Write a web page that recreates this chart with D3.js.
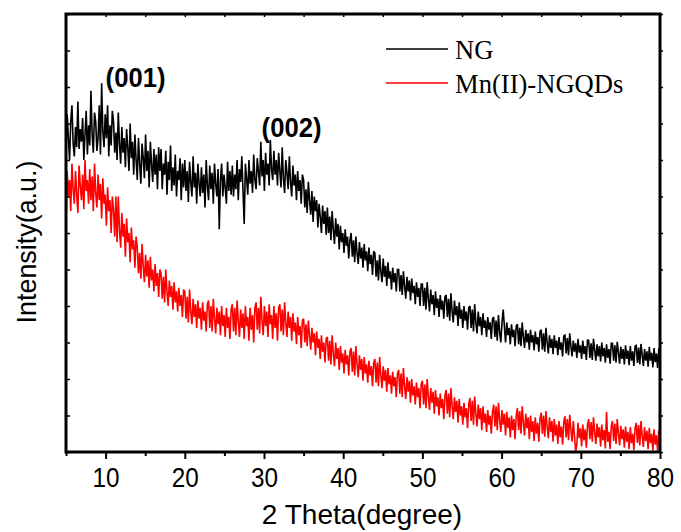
<!DOCTYPE html>
<html>
<head>
<meta charset="utf-8">
<script src="https://cdn.jsdelivr.net/npm/d3@7/dist/d3.min.js"></script>
<style>
  html, body { margin: 0; padding: 0; background: #fff; }
  svg { display: block; }
</style>
</head>
<body>
<svg id="chart" width="681" height="532"></svg>
<script>
// ---- data (2θ scan from 5° to 80°, step 0.15°) ----
const thetaStart = 5, thetaEnd = 80, thetaStep = 0.15;
const xMajorTicks = [10, 20, 30, 40, 50, 60, 70, 80];
const xMinorTicks = [5, 15, 25, 35, 45, 55, 65, 75];
const yTicks = [0, 100, 200, 300, 400, 500, 600, 700, 800, 900, 1000, 1100, 1200];
const seriesNames = ["NG", "Mn(II)-NGQDs"];
const seriesColors = ["#000000", "#ff0000"];
const peakLabels = ["(001)", "(002)"];
const peakLabelX = [10.0, 29.7];
const peakLabelY = [1000, 862];

const ngValues = [
  820,925,860,800,905,950,845,810,890,835, 960,830,885,850,915,800,870,935,815,895,
  840,990,870,820,930,905,825,860,950,815, 1010,880,835,925,860,950,810,895,840,935,
  905,820,875,800,930,845,790,890,820,860, 780,885,835,770,900,805,850,760,870,800,
  745,860,790,735,845,805,750,870,770,825, 725,850,790,740,830,760,815,720,835,770,
  830,720,790,760,825,705,795,745,840,715, 780,730,815,700,770,745,805,690,790,725,
  800,715,770,685,795,740,700,810,725,765, 680,790,735,700,780,710,760,670,800,730,
  690,785,720,765,680,790,735,700,775,610, 745,790,700,760,725,680,795,715,770,705,
  785,700,760,720,800,690,775,740,810,715, 625,790,750,705,800,735,770,710,815,745,
  720,805,770,730,850,755,800,715,820,760, 790,730,855,775,745,825,760,800,730,820,
  770,725,835,750,710,800,765,720,810,740, 700,785,730,760,690,770,715,745,680,760,
  745,670,720,655,740,690,650,715,630,700, 660,690,615,680,645,600,675,625,660,595,
  670,600,645,580,660,610,570,640,590,625, 555,620,575,600,545,610,565,590,530,580,
  600,535,580,520,590,545,515,575,530,560, 505,570,525,550,495,560,515,540,485,550,
  545,480,525,470,540,495,465,530,480,510, 455,520,475,495,445,505,465,490,440,500,
  500,440,485,430,495,455,420,480,440,470, 415,475,435,455,405,465,425,450,400,460,
  460,400,450,390,465,420,385,445,405,430, 375,440,395,420,370,430,390,415,365,425,
  430,370,420,360,435,385,355,415,375,400, 345,410,365,390,340,400,360,385,335,395,
  400,340,390,330,405,355,325,385,345,370, 320,380,340,360,315,370,335,355,310,365,
  370,315,360,305,375,330,300,355,390,345, 300,355,320,340,295,350,315,335,290,345,
  350,295,340,290,355,315,285,335,300,325, 280,335,300,320,278,330,295,315,275,330,
  335,280,325,275,340,300,270,320,285,310, 268,320,285,305,265,315,280,300,262,318,
  320,270,312,265,325,290,262,305,275,298, 258,310,272,292,255,305,268,290,252,308,
  305,258,298,252,310,280,250,295,262,290, 248,300,262,285,245,295,258,282,242,298,
  298,250,292,245,302,272,242,288,255,282, 240,292,255,278,238,290,250,276,236,290,
  292,244,286,240,296,266,236,282,250,276, 234,288,250,272,232,285,246,270,230,284,
  250
];

const mnValues = [
  620,770,700,745,660,790,720,680,770,705, 655,785,730,690,760,665,800,715,745,680,
  775,690,755,660,790,710,670,760,690,735, 640,750,680,705,620,725,660,690,600,700,
  665,590,700,575,700,610,560,655,590,625, 535,640,575,600,520,615,555,580,505,590,
  560,490,545,475,570,510,465,540,480,525, 450,535,470,500,440,515,455,490,425,500,
  490,420,480,410,500,440,400,470,425,455, 390,465,410,440,385,450,400,430,370,445,
  440,365,425,355,445,385,350,420,370,405, 340,415,365,395,335,410,360,385,330,405,
  415,340,400,330,420,365,325,395,350,385, 320,400,345,375,315,395,340,370,310,390,
  405,330,395,320,415,360,315,390,340,380, 310,400,345,370,305,395,335,375,300,395,
  410,335,395,325,425,360,320,400,345,385, 315,405,350,375,310,400,340,380,305,395,
  405,330,390,320,410,355,315,385,340,370, 305,380,330,355,295,370,320,345,285,360,
  365,300,350,290,360,320,280,340,300,325, 265,330,285,310,255,320,275,300,245,310,
  315,250,305,240,320,270,235,300,255,285, 225,290,245,270,215,280,240,265,210,275,
  285,220,275,210,290,240,205,265,225,255, 195,260,215,240,190,250,210,235,180,245,
  255,190,245,180,260,210,175,235,195,225, 165,230,185,210,160,220,180,205,150,215,
  225,160,215,150,230,180,145,205,165,195, 135,200,155,180,130,190,150,175,120,185,
  195,130,185,120,200,150,115,175,135,165, 105,170,125,150,100,160,120,145,90,155,
  170,105,160,95,175,125,90,150,110,140, 80,145,100,125,75,135,95,120,65,130,
  148,85,140,75,152,105,70,130,90,120, 60,125,80,105,55,115,75,100,50,110,
  130,70,125,60,135,90,55,115,75,105, 45,110,65,95,40,100,60,90,35,100,
  120,60,112,50,125,80,45,105,65,95, 35,100,55,85,30,95,50,80,28,92,
  108,50,100,42,112,70,38,95,55,85, 28,90,45,75,22,85,40,70,20,82,
  98,40,90,32,102,60,28,85,45,2, 20,80,38,65,15,75,32,62,12,75,
  90,35,82,28,95,55,22,78,40,68, 15,75,32,60,10,110,28,55,8,70,
  85,30,78,22,90,50,18,72,35,62, 12,70,28,55,8,68,24,50,5,65,
  80,25,74,18,85,45,14,68,30,58, 8,66,24,50,4,62,20,46,2,60,
  35
];

// ---- layout ----
const W = 681, H = 532;
const M = { left: 66, right: 21, top: 14, bottom: 80 };
const plotW = W - M.left - M.right;   // 594
const plotH = H - M.top - M.bottom;   // 438

const svg = d3.select("#chart");
const x = d3.scaleLinear().domain([thetaStart, thetaEnd]).range([M.left, M.left + plotW]);
const y = d3.scaleLinear().domain([0, 1200]).range([M.top + plotH, M.top]);

const thetas = ngValues.map((_, i) => +(thetaStart + i * thetaStep).toFixed(2));

svg.append("defs").append("clipPath").attr("id", "clip")
  .append("rect").attr("x", M.left).attr("y", M.top).attr("width", plotW).attr("height", plotH);

const line = d3.line().x(d => x(d[0])).y(d => y(d[1]));

const series = [ngValues, mnValues];
// draw red first, black on top
[1, 0].forEach(k => {
  svg.append("path")
    .datum(series[k].map((v, i) => [thetas[i], v]))
    .attr("clip-path", "url(#clip)")
    .attr("fill", "none")
    .attr("stroke", seriesColors[k])
    .attr("stroke-width", 1.6)
    .attr("stroke-linejoin", "miter")
    .attr("stroke-miterlimit", 2)
    .attr("d", line);
});

// ---- axes ----
const axisFont = "'Liberation Sans', Arial, sans-serif";
const gx = svg.append("g").attr("transform", `translate(0,${M.top + plotH})`)
  .call(d3.axisBottom(x).tickValues(xMajorTicks).tickSize(7).tickPadding(6).tickFormat(d3.format("d")));
gx.select(".domain").remove();
gx.selectAll(".tick line").attr("stroke", "#000").attr("stroke-width", 2);
gx.selectAll(".tick text")
  .attr("font-family", axisFont).attr("font-size", 27).attr("fill", "#000")
  .attr("y", 0).attr("dy", 0)
  .attr("transform", "translate(0,35) scale(0.9,1)");

const gxm = svg.append("g").attr("transform", `translate(0,${M.top + plotH})`)
  .call(d3.axisBottom(x).tickValues(xMinorTicks).tickSize(4).tickFormat(""));
gxm.select(".domain").remove();
gxm.selectAll(".tick line").attr("stroke", "#000").attr("stroke-width", 2);

// top axis ticks (inward)
const gt = svg.append("g").attr("transform", `translate(0,${M.top})`)
  .call(d3.axisBottom(x).tickValues(xMajorTicks.concat(xMinorTicks)).tickSize(3).tickFormat(""));
gt.select(".domain").remove();
gt.selectAll(".tick line").attr("stroke", "#000").attr("stroke-width", 1.5);

// left axis ticks (inward, no labels)
const gl = svg.append("g").attr("transform", `translate(${M.left},0)`)
  .call(d3.axisRight(y).tickValues(yTicks).tickSize(4).tickFormat(""));
gl.select(".domain").remove();
gl.selectAll(".tick line").attr("stroke", "#000").attr("stroke-width", 1.5);

// right axis ticks
const gr = svg.append("g").attr("transform", `translate(${M.left + plotW},0)`)
  .call(d3.axisRight(y).tickValues(yTicks).tickSize(3).tickFormat(""));
gr.select(".domain").remove();
gr.selectAll(".tick line").attr("stroke", "#000").attr("stroke-width", 1.5);

// frame
svg.append("rect")
  .attr("x", M.left).attr("y", M.top).attr("width", plotW).attr("height", plotH)
  .attr("fill", "none").attr("stroke", "#000").attr("stroke-width", 3);

// axis titles
svg.append("text")
  .attr("transform", `translate(${M.left + plotW / 2 - 1},${H - 8})`)
  .attr("text-anchor", "middle")
  .attr("font-family", axisFont).attr("font-size", 28).attr("fill", "#000")
  .text("2 Theta(degree)");

svg.append("text")
  .attr("transform", `translate(36,${M.top + 228}) rotate(-90) scale(0.96,1)`)
  .attr("text-anchor", "middle")
  .attr("font-family", axisFont).attr("font-size", 28).attr("fill", "#000")
  .text("Intensity(a.u.)");

// peak labels
peakLabels.forEach((t, i) => {
  svg.append("text")
    .attr("transform", `translate(${x(peakLabelX[i])},${y(peakLabelY[i])}) scale(0.95,1)`)
    .attr("font-family", axisFont).attr("font-size", 27).attr("font-weight", "bold").attr("fill", "#000")
    .text(t);
});

// legend
const legX = 386, legY0 = 49, legDy = 34;
seriesNames.forEach((n, i) => {
  const gy = legY0 + i * legDy;
  svg.append("line").attr("x1", legX).attr("x2", legX + 62).attr("y1", gy).attr("y2", gy)
    .attr("stroke", seriesColors[i]).attr("stroke-width", 1.5);
  svg.append("text")
    .attr("transform", `translate(${legX + 69},${gy + 10}) scale(0.95,1)`)
    .attr("font-family", "'Liberation Serif', 'Times New Roman', serif").attr("font-size", 28).attr("fill", "#000")
    .text(n);
});
</script>
</body>
</html>
